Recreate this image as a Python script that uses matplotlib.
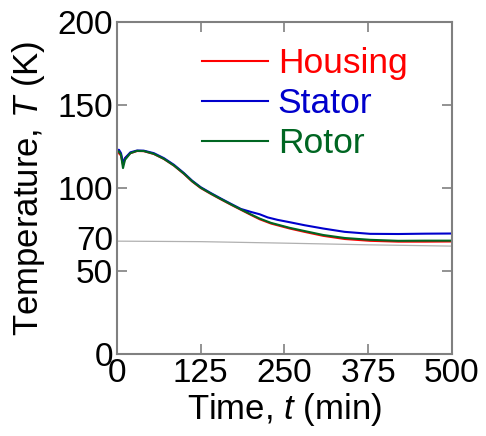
import matplotlib
matplotlib.use('Agg')
import matplotlib.pyplot as plt

plt.rcParams['font.family'] = ['Liberation Sans', 'DejaVu Sans']
plt.rcParams['mathtext.fontset'] = 'custom'
plt.rcParams['mathtext.rm'] = 'Liberation Sans'
plt.rcParams['mathtext.it'] = 'Liberation Sans:italic'

# time in minutes and temperatures in K
time_blue = [0, 3, 6, 9, 12, 20, 30, 40, 55, 70, 85, 100, 112, 125, 140, 155, 170,
             185, 200, 213, 225, 240, 258, 280, 308, 340, 378, 420, 460, 500]
stator = [123, 123, 121, 115, 118, 121.5, 122.6, 122.5, 121, 118, 114, 109, 104.5,
          100.5, 97, 93.7, 90.5, 87.4, 85.6, 84.2, 82.3, 80.8, 79.4, 77.6, 75.6, 73.6,
          72.4, 72.3, 72.5, 72.6]

time_red = [0, 3, 6, 9, 12, 20, 30, 40, 55, 70, 85, 100, 112, 125, 140, 155, 170,
            185, 200, 213, 230, 258, 280, 308, 340, 378, 420, 460, 500]
housing = [121, 121, 119.5, 114, 118, 121, 122.3, 122.2, 120.5, 117.5, 113.5, 108.5, 104,
           100, 96.5, 93.2, 90, 86.9, 83.8, 81.2, 78.6, 75.6, 73.6, 71.2, 69.3, 68.2,
           67.7, 67.7, 67.8]
rotor = [122, 122, 120, 112, 117, 121, 122.4, 122.3, 120.6, 117.6, 113.6, 108.7, 104.2,
         100.2, 96.7, 93.4, 90.2, 87.1, 84.1, 81.6, 79.0, 76.0, 74.1, 71.7, 69.9, 68.8,
         68.2, 68.3, 68.3]

time_ref = [0, 125, 250, 375, 500]
reference = [68, 67.7, 66.8, 65.8, 65]

fig = plt.figure(figsize=(4.86, 4.36), dpi=100)
ax = fig.add_axes([0.2407, 0.188, 0.689, 0.7615])

ax.plot(time_ref, reference, color='#b0b0b0', lw=0.9)
ax.plot(time_red, housing, color='#ff0000', lw=1.5, label='Housing')
ax.plot(time_blue, stator, color='#0000cc', lw=1.5, label='Stator')
ax.plot(time_red, rotor, color='#006622', lw=1.5, label='Rotor')

ax.set_xlim(0, 500)
ax.set_ylim(0, 200)
ax.set_xticks([0, 125, 250, 375, 500])
ax.set_yticks([0, 50, 70, 100, 150, 200])
ax.tick_params(direction='in', length=7, width=1.2, color='#808080',
               labelsize=24, top=True, right=True, pad=3)
# 70 is only a label, no tick mark
ax.yaxis.get_major_ticks()[2].tick1line.set_visible(False)
ax.yaxis.get_major_ticks()[2].tick2line.set_visible(False)
for s in ax.spines.values():
    s.set_color('#808080')
    s.set_linewidth(1.5)

ax.set_xlabel('Time, $t$ (min)', fontsize=25, labelpad=1)
ax.set_ylabel('Temperature, $T$ (K)', fontsize=25, labelpad=7)

leg = ax.legend(loc='upper left', bbox_to_anchor=(0.254, 0.925), frameon=False,
                fontsize=25.5, handlelength=1.86, handletextpad=0.28,
                labelspacing=0.2, borderpad=0, borderaxespad=0)
for line, text in zip(leg.get_lines(), leg.get_texts()):
    text.set_color(line.get_color())

fig.savefig('out.png', dpi=100)
